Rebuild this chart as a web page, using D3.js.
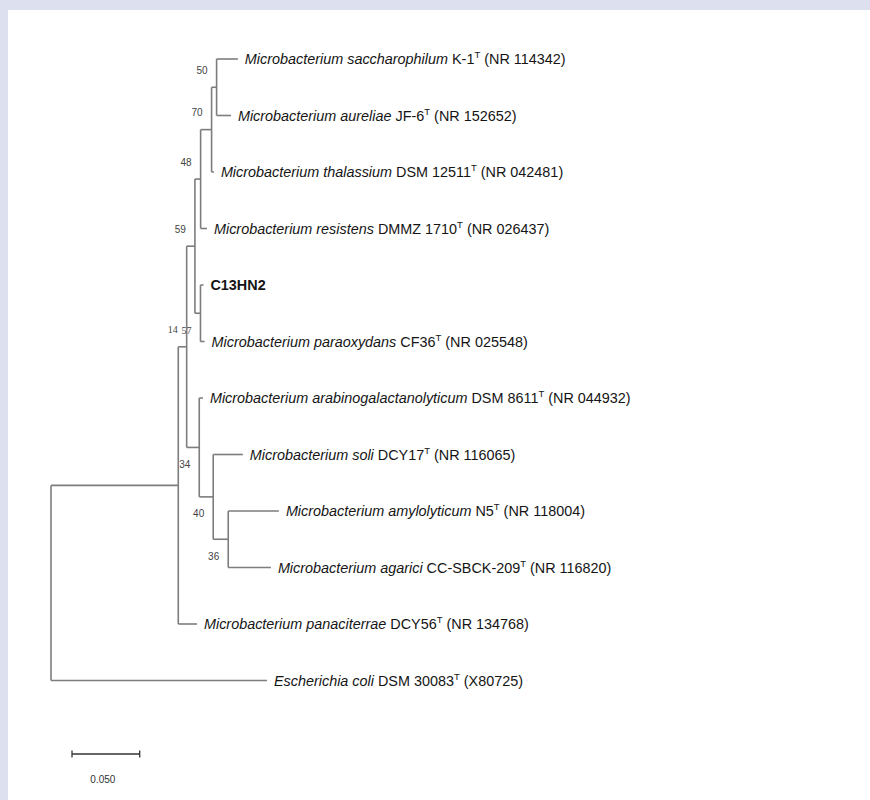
<!DOCTYPE html>
<html>
<head>
<meta charset="utf-8">
<script src="https://cdn.jsdelivr.net/npm/d3@7"></script>
<style>
  body { margin: 0; background: #dde0ee; }
  svg { display: block; }
</style>
</head>
<body>
<div id="svg_container"></div>
<script>
// tree topology: node id, parent id, branch length (substitutions/site)
const nodeIds = ["root", "J", "G", "D", "C", "B", "A", "E", "H", "I", "K",
    "sacch", "aur", "thal", "resist", "c13", "parao", "arabino", "soli", "amylo", "agarici", "panac", "ecoli"];
const parentIds = ["", "root", "J", "G", "D", "C", "B", "D", "G", "H", "I",
    "A", "A", "B", "C", "E", "E", "H", "I", "K", "K", "J", "root"];
const branchLengths = [0, 0.0940, 0.0062, 0.0061, 0.0042, 0.0081, 0.0037, 0.0041, 0.0093, 0.0103, 0.0111,
    0.0157, 0.0106, 0.0017, 0.0047, 0.0022, 0.0030, 0.0027, 0.0219, 0.0374, 0.0315, 0.0138, 0.1595];

// leaves, top to bottom
const leafOrder = ["sacch", "aur", "thal", "resist", "c13", "parao", "arabino", "soli", "amylo", "agarici", "panac", "ecoli"];
const speciesNames = ["Microbacterium saccharophilum", "Microbacterium aureliae", "Microbacterium thalassium",
    "Microbacterium resistens", "C13HN2", "Microbacterium paraoxydans", "Microbacterium arabinogalactanolyticum",
    "Microbacterium soli", "Microbacterium amylolyticum", "Microbacterium agarici", "Microbacterium panaciterrae",
    "Escherichia coli"];
const strainNames = ["K-1", "JF-6", "DSM 12511", "DMMZ 1710", "", "CF36", "DSM 8611", "DCY17", "N5",
    "CC-SBCK-209", "DCY56", "DSM 30083"];
const accessions = ["NR 114342", "NR 152652", "NR 042481", "NR 026437", "", "NR 025548", "NR 044932",
    "NR 116065", "NR 118004", "NR 116820", "NR 134768", "X80725"];

// bootstrap support
const bootNodes = ["A", "B", "C", "D", "E", "G", "H", "I", "K"];
const bootValues = [50, 70, 48, 59, 57, 14, 34, 40, 36];

const scaleBarValue = 0.05;

const width = 870, height = 800;

const svg = d3.select("#svg_container")
    .append("svg")
    .attr("width", width)
    .attr("height", height);

svg.append("rect").attr("width", width).attr("height", height).attr("fill", "#dde0ee");
svg.append("rect").attr("x", 8).attr("y", 10).attr("width", width - 8).attr("height", height - 10).attr("fill", "#fff");

const table = nodeIds.map((id, i) => ({ id: id, parent: parentIds[i] || null, length: branchLengths[i] }));
const root = d3.stratify().id(d => d.id).parentId(d => d.parent)(table);

root.eachBefore(n => { n.depth_len = n.parent ? n.parent.depth_len + n.data.length : 0; });

const x = d3.scaleLinear()
    .domain([0, 0.16])
    .range([51, 51 + 0.16 * 1354]);

const y = d3.scalePoint()
    .domain(leafOrder)
    .range([59, 680.5]);

root.eachAfter(n => {
    n.px = x(n.depth_len);
    if (!n.children) n.py = y(n.id);
    else {
        const ys = n.children.map(c => c.py);
        n.py = (d3.min(ys) + d3.max(ys)) / 2;
    }
});

const lineColor = "#7d7d7d";
const tree = svg.append("g")
    .attr("stroke", lineColor)
    .attr("stroke-width", 1.6)
    .attr("fill", "none");

// horizontal branches
tree.selectAll("line.h")
    .data(root.descendants().filter(n => n.parent))
    .enter()
    .append("line")
    .attr("class", "h")
    .attr("x1", d => d.parent.px)
    .attr("x2", d => d.px)
    .attr("y1", d => d.py)
    .attr("y2", d => d.py);

// vertical connectors
tree.selectAll("line.v")
    .data(root.descendants().filter(n => n.children))
    .enter()
    .append("line")
    .attr("class", "v")
    .attr("x1", d => d.px)
    .attr("x2", d => d.px)
    .attr("y1", d => d3.min(d.children, c => c.py))
    .attr("y2", d => d3.max(d.children, c => c.py));

// leaf labels
const labels = svg.append("g")
    .attr("font-family", "Liberation Sans, Arial, sans-serif")
    .attr("font-size", 14.4)
    .attr("fill", "#151515");

leafOrder.forEach((id, i) => {
    const n = root.find(d => d.id === id);
    const t = labels.append("text")
        .attr("x", n.px + 7)
        .attr("y", n.py)
        .attr("dy", "0.35em");
    if (!strainNames[i]) {
        t.attr("font-weight", "700").text(speciesNames[i]);
        return;
    }
    t.append("tspan").attr("font-style", "italic").text(speciesNames[i]);
    t.append("tspan").text(" " + strainNames[i]);
    t.append("tspan").attr("font-size", 9.5).attr("dy", -6).text("T");
    t.append("tspan").attr("dy", 6).text(" (" + accessions[i] + ")");
});

// bootstrap values
const below = new Set(["E", "H", "I", "K"]);
const boot = svg.append("g")
    .attr("font-family", "Liberation Sans, Arial, sans-serif")
    .attr("font-size", 10)
    .attr("fill", "#444")
    .attr("text-anchor", "end");

bootNodes.forEach((id, i) => {
    const n = root.find(d => d.id === id);
    boot.append("text")
        .attr("x", n.px - 9)
        .attr("y", below.has(id) ? n.py + 17 : n.py - 17)
        .attr("dy", "0.35em")
        .attr("font-family", (id === "E" || id === "G") ? "Liberation Serif, serif" : null)
        .text(bootValues[i]);
});

// scale bar
const barX = 72, barY = 754;
const barLen = x(scaleBarValue) - x(0);
const bar = svg.append("g").attr("stroke", "#333").attr("stroke-width", 1.3);
bar.append("line").attr("x1", barX).attr("x2", barX + barLen).attr("y1", barY).attr("y2", barY);
bar.append("line").attr("x1", barX).attr("x2", barX).attr("y1", barY - 3.5).attr("y2", barY + 3.5);
bar.append("line").attr("x1", barX + barLen).attr("x2", barX + barLen).attr("y1", barY - 3.5).attr("y2", barY + 3.5);
svg.append("text")
    .attr("x", barX + barLen / 2 - 3)
    .attr("y", barY + 25)
    .attr("dy", "0.35em")
    .attr("text-anchor", "middle")
    .attr("font-family", "Liberation Sans, Arial, sans-serif")
    .attr("font-size", 10)
    .attr("fill", "#333")
    .text(d3.format(".3f")(scaleBarValue));
</script>
</body>
</html>
